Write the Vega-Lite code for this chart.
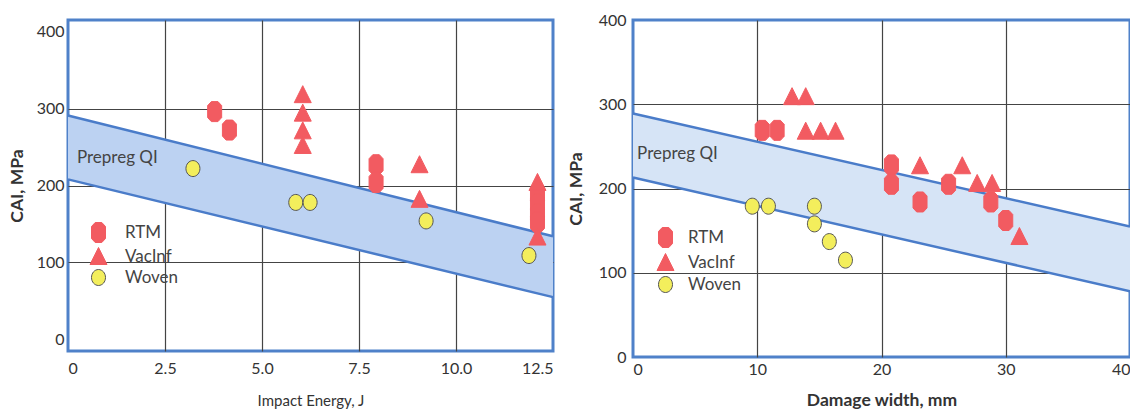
{
  "$schema": "https://vega.github.io/schema/vega-lite/v6.json",
  "padding": {"left": 6, "top": 10, "right": 0, "bottom": 0},
  "background": "white",
  "spacing": 5,
  "config": {
    "font": "Lato",
    "view": {"stroke": "#4f81c9", "strokeWidth": 3},
    "axis": {
      "grid": true, "gridColor": "#444444", "gridWidth": 1.2,
      "ticks": false, "domain": false,
      "labelFont": "Lato", "labelFontSize": 16, "labelColor": "#333333",
      "titleFont": "Lato", "titleColor": "#333333"
    },
    "legend": {
      "labelFont": "Lato", "labelFontSize": 17, "labelColor": "#444444",
      "symbolSize": 400, "rowPadding": 0, "padding": 0, "symbolStrokeWidth": 1
    }
  },
  "datasets": {
    "leftBand": [
      {"x": 0, "hi": 291, "lo": 208},
      {"x": 12.5, "hi": 134, "lo": 55}
    ],
    "rightBand": [
      {"x": 0, "hi": 289, "lo": 213},
      {"x": 40, "hi": 155, "lo": 78}
    ],
    "leftText": [{"x": 0.23, "y": 236, "label": "Prepreg QI"}],
    "rightText": [{"x": 0.33, "y": 241, "label": "Prepreg QI"}],
    "leftPts": [
      {"series": "RTM", "x": 3.78, "y": 296},
      {"series": "RTM", "x": 4.16, "y": 272},
      {"series": "RTM", "x": 7.94, "y": 227},
      {"series": "RTM", "x": 7.94, "y": 204},
      {"series": "RTM", "x": 12.1, "y": 188},
      {"series": "RTM", "x": 12.1, "y": 176},
      {"series": "RTM", "x": 12.1, "y": 163},
      {"series": "RTM", "x": 12.1, "y": 152},
      {"series": "VacInf", "x": 6.05, "y": 318},
      {"series": "VacInf", "x": 6.05, "y": 294},
      {"series": "VacInf", "x": 6.05, "y": 271},
      {"series": "VacInf", "x": 6.05, "y": 252},
      {"series": "VacInf", "x": 9.06, "y": 227},
      {"series": "VacInf", "x": 9.06, "y": 182},
      {"series": "VacInf", "x": 12.1, "y": 204},
      {"series": "VacInf", "x": 12.1, "y": 133},
      {"series": "Woven", "x": 3.22, "y": 222},
      {"series": "Woven", "x": 5.87, "y": 178},
      {"series": "Woven", "x": 6.24, "y": 178},
      {"series": "Woven", "x": 9.23, "y": 154},
      {"series": "Woven", "x": 11.88, "y": 109}
    ],
    "rightPts": [
      {"series": "RTM", "x": 10.4, "y": 269},
      {"series": "RTM", "x": 11.6, "y": 269},
      {"series": "RTM", "x": 20.8, "y": 228},
      {"series": "RTM", "x": 20.8, "y": 205},
      {"series": "RTM", "x": 23.1, "y": 184},
      {"series": "RTM", "x": 25.4, "y": 205},
      {"series": "RTM", "x": 28.8, "y": 184},
      {"series": "RTM", "x": 30.0, "y": 162},
      {"series": "VacInf", "x": 12.8, "y": 309},
      {"series": "VacInf", "x": 13.9, "y": 309},
      {"series": "VacInf", "x": 13.9, "y": 268},
      {"series": "VacInf", "x": 15.1, "y": 268},
      {"series": "VacInf", "x": 16.3, "y": 268},
      {"series": "VacInf", "x": 23.1, "y": 227},
      {"series": "VacInf", "x": 26.5, "y": 227},
      {"series": "VacInf", "x": 27.7, "y": 206},
      {"series": "VacInf", "x": 28.9, "y": 206},
      {"series": "VacInf", "x": 31.1, "y": 143},
      {"series": "Woven", "x": 9.6, "y": 179},
      {"series": "Woven", "x": 10.9, "y": 179},
      {"series": "Woven", "x": 14.6, "y": 179},
      {"series": "Woven", "x": 14.6, "y": 158},
      {"series": "Woven", "x": 15.8, "y": 137},
      {"series": "Woven", "x": 17.1, "y": 115}
    ]
  },
  "hconcat": [
    {
      "width": 485,
      "height": 331,
      "layer": [
        {
          "data": {"name": "leftBand"},
          "mark": {"type": "area", "color": "#bcd2f2", "opacity": 1},
          "encoding": {
            "x": {"field": "x", "type": "quantitative",
              "scale": {"domain": [0, 12.5], "nice": false, "zero": false},
              "axis": {"title": "Impact Energy, J", "values": [0, 2.5, 5, 7.5, 10, 12.5],
                "labelExpr": "datum.value == 0 ? '0' : format(datum.value, '.1f')",
                "labelPadding": 9, "titlePadding": 17, "titleFontSize": 15, "titleFontWeight": "normal",
                "gridOpacity": {"condition": {"test": "datum.value <= 0 || datum.value >= 12.5", "value": 0}, "value": 1}}},
            "y": {"field": "hi", "type": "quantitative",
              "scale": {"domain": [-15, 415], "nice": false, "zero": false},
              "axis": {"title": "CAI, MPa", "values": [0, 100, 200, 300, 400],
                "labelPadding": 4, "titlePadding": 10, "titleFontSize": 17.5, "titleFontWeight": "bold",
                "gridOpacity": {"condition": {"test": "datum.value <= 0 || datum.value >= 400", "value": 0}, "value": 1}}},
            "y2": {"field": "lo"}
          }
        },
        {
          "data": {"name": "leftBand"},
          "mark": {"type": "line", "color": "#4a7cc9", "strokeWidth": 2.5},
          "encoding": {
            "x": {"field": "x", "type": "quantitative"},
            "y": {"field": "hi", "type": "quantitative"}
          }
        },
        {
          "data": {"name": "leftBand"},
          "mark": {"type": "line", "color": "#4a7cc9", "strokeWidth": 2.5},
          "encoding": {
            "x": {"field": "x", "type": "quantitative"},
            "y": {"field": "lo", "type": "quantitative"}
          }
        },
        {
          "data": {"name": "leftText"},
          "mark": {"type": "text", "align": "left", "baseline": "middle", "fontSize": 17, "color": "#444444", "font": "Lato"},
          "encoding": {
            "x": {"field": "x", "type": "quantitative"},
            "y": {"field": "y", "type": "quantitative"},
            "text": {"field": "label"}
          }
        },
        {
          "data": {"name": "leftPts"},
          "mark": {"type": "point", "filled": true, "opacity": 1, "size": 400, "strokeWidth": 1},
          "encoding": {
            "x": {"field": "x", "type": "quantitative"},
            "y": {"field": "y", "type": "quantitative"},
            "color": {"field": "series", "type": "nominal",
              "scale": {"domain": ["RTM", "VacInf", "Woven"], "range": ["#f25b61", "#f25b61", "#f3ee5c"]},
              "legend": {"orient": "none", "legendX": 20, "legendY": 202, "title": null, "labelOffset": 16, "rowPadding": 0}},
            "stroke": {"field": "series", "type": "nominal",
              "scale": {"domain": ["RTM", "VacInf", "Woven"], "range": ["#f25b61", "#f25b61", "#555555"]},
              "legend": {"orient": "none", "legendX": 20, "legendY": 202, "title": null, "labelOffset": 16, "rowPadding": 0}},
            "shape": {"field": "series", "type": "nominal",
              "scale": {"domain": ["RTM", "VacInf", "Woven"], "range": [
                "M-0.33,-1 L0.33,-1 L0.7,-0.6 L0.7,0.6 L0.33,1 L-0.33,1 L-0.7,0.6 L-0.7,-0.6 Z",
                "M0,-0.9 L0.85,0.8 L-0.85,0.8 Z",
                "M0,-0.8 A0.7,0.8 0 1,1 0,0.8 A0.7,0.8 0 1,1 0,-0.8 Z"]},
              "legend": {"orient": "none", "legendX": 20, "legendY": 202, "title": null, "labelOffset": 16, "rowPadding": 0}}
          }
        }
      ]
    },
    {
      "width": 497,
      "height": 337,
      "layer": [
        {
          "data": {"name": "rightBand"},
          "mark": {"type": "area", "color": "#d6e4f6", "opacity": 1},
          "encoding": {
            "x": {"field": "x", "type": "quantitative",
              "scale": {"domain": [0, 40], "nice": false, "zero": false},
              "axis": {"title": "Damage width, mm", "values": [0, 10, 20, 30, 40],
                "labelPadding": 4, "titlePadding": 14, "titleFontSize": 17.5, "titleFontWeight": "bold",
                "gridOpacity": {"condition": {"test": "datum.value <= 0 || datum.value >= 40", "value": 0}, "value": 1}}},
            "y": {"field": "hi", "type": "quantitative",
              "scale": {"domain": [0, 400], "nice": false, "zero": false},
              "axis": {"title": "CAI, MPa", "values": [0, 100, 200, 300, 400],
                "labelPadding": 7, "titlePadding": 13, "titleFontSize": 17.5, "titleFontWeight": "bold",
                "gridOpacity": {"condition": {"test": "datum.value <= 0 || datum.value >= 400", "value": 0}, "value": 1}}},
            "y2": {"field": "lo"}
          }
        },
        {
          "data": {"name": "rightBand"},
          "mark": {"type": "line", "color": "#4a7cc9", "strokeWidth": 2.5},
          "encoding": {
            "x": {"field": "x", "type": "quantitative"},
            "y": {"field": "hi", "type": "quantitative"}
          }
        },
        {
          "data": {"name": "rightBand"},
          "mark": {"type": "line", "color": "#4a7cc9", "strokeWidth": 2.5},
          "encoding": {
            "x": {"field": "x", "type": "quantitative"},
            "y": {"field": "lo", "type": "quantitative"}
          }
        },
        {
          "data": {"name": "rightText"},
          "mark": {"type": "text", "align": "left", "baseline": "middle", "fontSize": 17, "color": "#444444", "font": "Lato"},
          "encoding": {
            "x": {"field": "x", "type": "quantitative"},
            "y": {"field": "y", "type": "quantitative"},
            "text": {"field": "label"}
          }
        },
        {
          "data": {"name": "rightPts"},
          "mark": {"type": "point", "filled": true, "opacity": 1, "size": 400, "strokeWidth": 1},
          "encoding": {
            "x": {"field": "x", "type": "quantitative"},
            "y": {"field": "y", "type": "quantitative"},
            "color": {"field": "series", "type": "nominal",
              "scale": {"domain": ["RTM", "VacInf", "Woven"], "range": ["#f25b61", "#f25b61", "#f3ee5c"]},
              "legend": {"orient": "none", "legendX": 22, "legendY": 207, "title": null, "labelOffset": 12, "rowPadding": 1}},
            "stroke": {"field": "series", "type": "nominal",
              "scale": {"domain": ["RTM", "VacInf", "Woven"], "range": ["#f25b61", "#f25b61", "#555555"]},
              "legend": {"orient": "none", "legendX": 22, "legendY": 207, "title": null, "labelOffset": 12, "rowPadding": 1}},
            "shape": {"field": "series", "type": "nominal",
              "scale": {"domain": ["RTM", "VacInf", "Woven"], "range": [
                "M-0.33,-1 L0.33,-1 L0.7,-0.6 L0.7,0.6 L0.33,1 L-0.33,1 L-0.7,0.6 L-0.7,-0.6 Z",
                "M0,-0.9 L0.85,0.8 L-0.85,0.8 Z",
                "M0,-0.8 A0.7,0.8 0 1,1 0,0.8 A0.7,0.8 0 1,1 0,-0.8 Z"]},
              "legend": {"orient": "none", "legendX": 22, "legendY": 207, "title": null, "labelOffset": 12, "rowPadding": 1}}
          }
        }
      ]
    }
  ],
  "resolve": {
    "scale": {"color": "independent", "shape": "independent", "stroke": "independent"},
    "legend": {"color": "independent", "shape": "independent", "stroke": "independent"}
  }
}
